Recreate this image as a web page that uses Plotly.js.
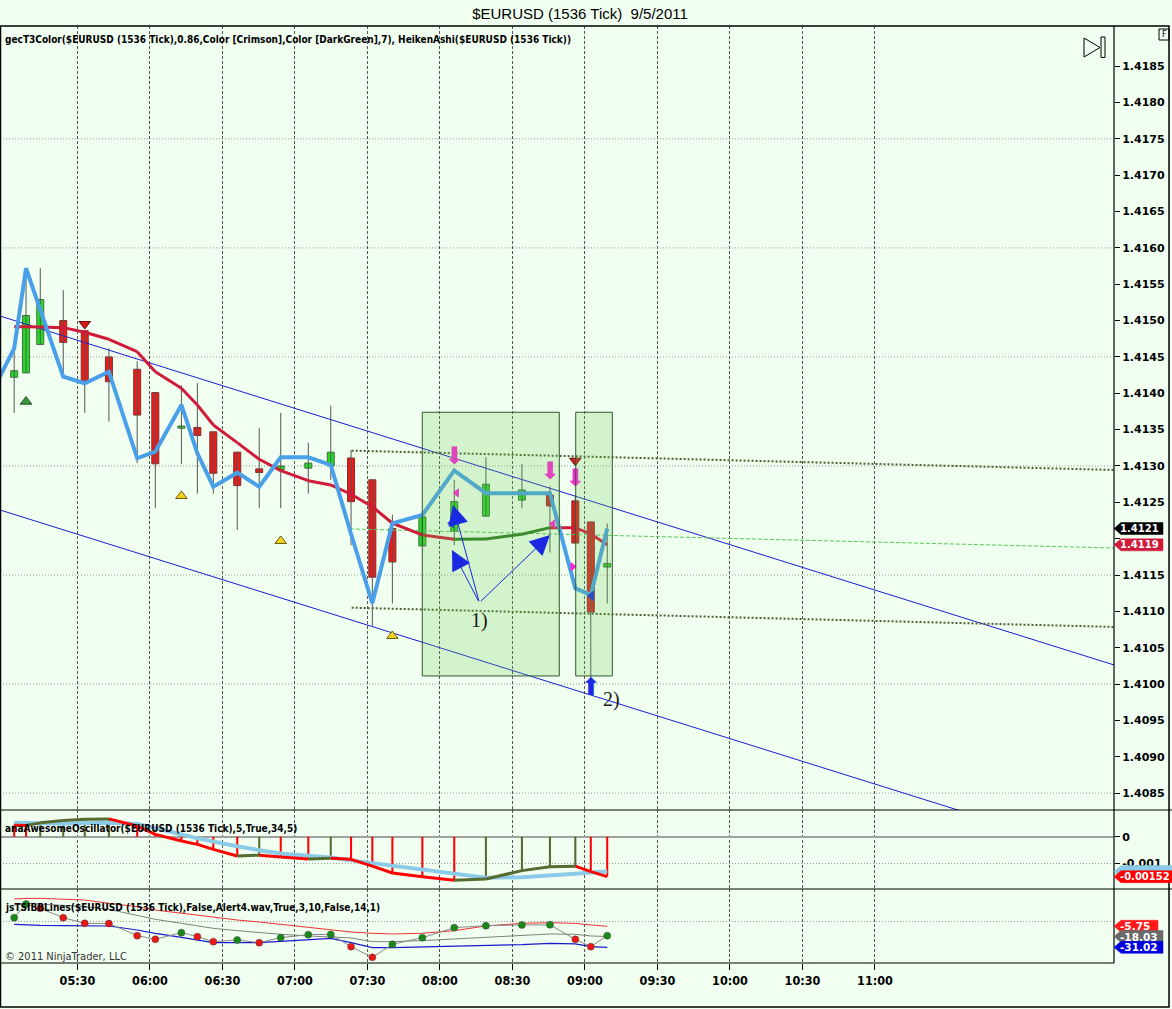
<!DOCTYPE html>
<html><head><meta charset="utf-8">
<script src="https://cdn.plot.ly/plotly-3.0.1.min.js"></script>
<style>body{margin:0;background:#f0fff0}</style>
</head><body><div id="chart" style="width:1172px;height:1009px"></div>
<script>
const DAY = '2011-09-05 ';
// ---------- data ----------
const candleTimes = ['05:03:48','05:08:42','05:14:36','05:24:06','05:33:00','05:43:00','05:54:42','06:02:12','06:13:00','06:19:36','06:26:12','06:36:06','06:45:12','06:54:06','07:05:30','07:14:48','07:23:12','07:32:00','07:40:18','07:52:42','08:05:54','08:19:00','08:33:54','08:45:30','08:56:00','09:02:24','09:09:12'];
const haOpen  = [1.41422,1.41428,1.41467,1.41500,1.41486,1.41450,1.41433,1.41401,1.41352,1.41353,1.41347,1.41319,1.41296,1.41295,1.41297,1.41300,1.41311,1.41281,1.41214,1.41190,1.41210,1.41231,1.41253,1.41260,1.41252,1.41223,1.41161];
const haHigh  = [1.41467,1.41570,1.41572,1.41542,1.41486,1.41462,1.41444,1.41401,1.41411,1.41414,1.41347,1.41319,1.41352,1.41373,1.41332,1.41383,1.41322,1.41281,1.41233,1.41230,1.41281,1.41312,1.41303,1.41272,1.41260,1.41223,1.41221];
const haLow   = [1.41373,1.41428,1.41467,1.41423,1.41373,1.41361,1.41304,1.41242,1.41303,1.41262,1.41262,1.41212,1.41242,1.41242,1.41262,1.41281,1.41191,1.41080,1.41111,1.41190,1.41191,1.41231,1.41242,1.41181,1.41194,1.40996,1.41111];
const haClose = [1.41431,1.41507,1.41529,1.41470,1.41415,1.41416,1.41370,1.41303,1.41355,1.41342,1.41290,1.41273,1.41291,1.41300,1.41304,1.41319,1.41251,1.41147,1.41168,1.41230,1.41251,1.41275,1.41267,1.41245,1.41194,1.41099,1.41166];
const t3Values = [1.414916,1.414914,1.414912,1.414903,1.414839,1.414743,1.414572,1.414297,1.414069,1.413839,1.413564,1.413321,1.413092,1.412936,1.412798,1.412739,1.412611,1.412440,1.412212,1.412051,1.411992,1.411996,1.412061,1.412152,1.412150,1.412065,1.411915];
const blueLeadTime = '04:55:54';
const blueLeadValue = 1.41410;
const blueValues = [1.414619,1.415720,1.415146,1.414229,1.414138,1.414297,1.413106,1.413197,1.413839,1.413175,1.412715,1.412908,1.412715,1.413120,1.413120,1.413014,1.412065,1.411112,1.412212,1.412326,1.412936,1.412625,1.412625,1.412625,1.411318,1.411226,1.412140];

const aoPrev = 0.00046;
const aoValues = [0.00044,0.00043,0.00053,0.00062,0.00067,0.00068,0.00041,0.00009,-0.00016,-0.00029,-0.00048,-0.00073,-0.00070,-0.00077,-0.00085,-0.00082,-0.00086,-0.00112,-0.00138,-0.00152,-0.00166,-0.00161,-0.00129,-0.00114,-0.00112,-0.00133,-0.00152];
const aoSignal = [0.00053,0.00052,0.00050,0.00050,0.00052,0.00053,0.00049,0.00034,0.00009,-0.00006,-0.00019,-0.00036,-0.00051,-0.00064,-0.00072,-0.00079,-0.00090,-0.00100,-0.00109,-0.00126,-0.00141,-0.00156,-0.00154,-0.00149,-0.00141,-0.00136,-0.00132];

const tsiPrev = 0;
const tsiValues = [4.6,21.0,15.8,4.6,-2.2,-2.4,-17.0,-21.4,-13.4,-18.2,-24.2,-22.2,-25.4,-19.4,-15.8,-15.5,-30.2,-43.1,-27.4,-19.4,-7.4,-5.0,-4.2,-4.0,-21.4,-30.2,-17.0];
const bbUpper = [27.0,27.8,27.8,27.0,25.8,21.8,17.8,13.8,9.8,7.8,5.0,1.8,-0.6,-3.4,-7.0,-9.4,-12.6,-14.2,-15.0,-14.2,-11.0,-5.4,-2.2,-1.4,-2.2,-4.2,-5.75];
const bbMid   = [19.8,21.8,21.0,19.8,17.8,14.6,7.8,2.6,-2.2,-5.4,-8.2,-11.0,-13.4,-15.4,-17.4,-18.2,-19.8,-24.2,-24.2,-23.0,-21.0,-19.0,-16.2,-15.0,-15.4,-17.4,-18.03];
const bbLower = [-3.4,-4.2,-4.6,-5.0,-5.4,-5.4,-10.2,-14.2,-19.0,-22.2,-25.4,-25.4,-25.4,-23.8,-22.2,-20.2,-25.4,-31.4,-31.4,-30.6,-30.2,-29.0,-27.8,-26.2,-27.0,-30.2,-31.02];

const upperChannelTimes = ['04:57:56','12:38:54'];
const upperChannelPrices = [1.415063,1.410263];
const lowerChannelTimes = ['04:57:56','12:38:54'];
const lowerChannelPrices = [1.412395,1.407595];
const upperDottedTimes = ['07:23:28','12:38:54'];
const upperDottedPrices = [1.413211,1.412945];
const lowerDottedTimes = ['07:23:28','12:38:54'];
const lowerDottedPrices = [1.411051,1.410786];
const greenLineTimes = ['07:22:46','12:38:54'];
const greenLinePrices = [1.412134,1.411872];

const boxStartTimes = ['07:52:40','08:56:10'];
const boxEndTimes = ['08:49:22','09:11:18'];
const boxTopPrices = [1.413739,1.413739];
const boxBottomPrices = [1.410112,1.410112];

const greenUpTimes = ['05:08:42'];       const greenUpPrices = [1.413885];
const redDownTimes = ['05:33:00','08:56:00']; const redDownPrices = [1.414953,1.413073];
const yellowUpTimes = ['06:13:00','06:54:06','07:40:18']; const yellowUpPrices = [1.412588,1.411969,1.410662];
const magentaDownTimes = ['08:05:54','08:45:30','08:56:00']; const magentaDownPrices = [1.413110,1.412904,1.412808];
const magentaLeftTimes = ['08:06:54','08:46:46']; const magentaLeftPrices = [1.412629,1.412203];
const magentaRightTimes = ['08:54:55']; const magentaRightPrices = [1.411615];
const blueLeftTimes = ['08:04:50','09:02:40']; const blueLeftPrices = [1.412212,1.411212];
const blueUpTimes = ['09:02:24']; const blueUpPrices = [1.409933];
const arrowTailTime = '08:16:16'; const arrowTailPrice = 1.411120;
const arrowTipTimes = ['08:05:22','08:04:58','08:45:31'];
const arrowTipPrices = [1.412464,1.411845,1.412051];
const noteTexts = ['1)','2)'];
const noteTimes = ['08:16:32','09:11:10'];
const notePrices = [1.410868,1.409782];

const priceTicks = [1.4085,1.4090,1.4095,1.4100,1.4105,1.4110,1.4115,1.4120,1.4125,1.4130,1.4135,1.4140,1.4145,1.4150,1.4155,1.4160,1.4165,1.4170,1.4175,1.4180,1.4185];
const hiddenPriceTick = 1.4120; // covered by the last-value markers in the picture
const priceGrid = [1.4085,1.4100,1.4115,1.4130,1.4145,1.4160,1.4175];
const timeTickLabels = ['05:30','06:00','06:30','07:00','07:30','08:00','08:30','09:00','09:30','10:00','10:30','11:00'];

// ---------- helpers ----------
const T = s => DAY + s;
const ct = candleTimes.map(T);
const MIN = 60000;
const NARROW = 'Liberation Sans Narrow, Arial Narrow, DejaVu Sans Condensed, sans-serif';
const LABELF = 'DejaVu Sans, Verdana, sans-serif';
const W = 1114, TOP = 26, BOT = 963, H = BOT - TOP;
const px = x => x / W;
const py = y => (BOT - y) / H;

const traces = [];
traces.push({x:upperChannelTimes.map(T), y:upperChannelPrices, mode:'lines', line:{color:'#1c1cd8', width:1}, hoverinfo:'skip'});
traces.push({x:lowerChannelTimes.map(T), y:lowerChannelPrices, mode:'lines', line:{color:'#1c1cd8', width:1}, hoverinfo:'skip'});
traces.push({x:upperDottedTimes.map(T), y:upperDottedPrices, mode:'lines', line:{color:'#4f5f2f', width:2, dash:'2px,2px'}, hoverinfo:'skip'});
traces.push({x:lowerDottedTimes.map(T), y:lowerDottedPrices, mode:'lines', line:{color:'#4f5f2f', width:2, dash:'2px,2px'}, hoverinfo:'skip'});
traces.push({x:greenLineTimes.map(T), y:greenLinePrices, mode:'lines', line:{color:'#55cc55', width:1, dash:'4px,2px'}, hoverinfo:'skip'});

// candle wicks
const wx = [], wy = [];
ct.forEach((t,i) => { wx.push(t,t,null); wy.push(haLow[i], haHigh[i], null); });
traces.push({x:wx, y:wy, mode:'lines', line:{color:'#555', width:1}, hoverinfo:'skip'});
// candle bodies
const up = [], dn = [];
ct.forEach((t,i) => (haClose[i] >= haOpen[i] ? up : dn).push(i));
traces.push({type:'bar', x:up.map(i=>ct[i]), base:up.map(i=>haOpen[i]), y:up.map(i=>haClose[i]-haOpen[i]),
  width:2.9*MIN, marker:{color:'#22dd22', line:{color:'#4a6a4a', width:1}}, hoverinfo:'skip'});
traces.push({type:'bar', x:dn.map(i=>ct[i]), base:dn.map(i=>haClose[i]), y:dn.map(i=>haOpen[i]-haClose[i]),
  width:2.9*MIN, marker:{color:'#ee1a1a', line:{color:'#7a3030', width:1}}, hoverinfo:'skip'});

function segTraces(times, vals, upColor, dnColor, width, yaxis) {
  const g = {x:[], y:[]}, r = {x:[], y:[]};
  for (let i = 1; i < vals.length; i++) {
    const s = vals[i] > vals[i-1] ? g : r;
    s.x.push(times[i-1], times[i], null); s.y.push(vals[i-1], vals[i], null);
  }
  return [
    {x:r.x, y:r.y, mode:'lines', line:{color:dnColor, width:width}, yaxis:yaxis, hoverinfo:'skip'},
    {x:g.x, y:g.y, mode:'lines', line:{color:upColor, width:width}, yaxis:yaxis, hoverinfo:'skip'}
  ];
}
traces.push(...segTraces(ct, t3Values, '#2f7a22', '#d01a3a', 3, 'y'));
traces.push({x:[T(blueLeadTime)].concat(ct), y:[blueLeadValue].concat(blueValues), mode:'lines', line:{color:'#4aa0e8', width:4}, hoverinfo:'skip'});

function mk(times, prices, symbol, color, size, lineColor) {
  return {x:times.map(T), y:prices, mode:'markers', hoverinfo:'skip',
    marker:{symbol:symbol, color:color, size:size, line:{color:lineColor||color, width:1}}};
}
function glyph(times, prices, ch, color, size) {
  return {x:times.map(T), y:prices, mode:'text', text:times.map(()=>ch), textposition:'middle center', hoverinfo:'skip',
    textfont:{family:'DejaVu Sans, sans-serif', size:size, color:color}};
}
traces.push(mk(greenUpTimes, greenUpPrices, 'triangle-up', '#3a9a3a', 10, '#1c4c1c'));
traces.push(mk(redDownTimes, redDownPrices, 'triangle-down', '#e01818', 10, '#601010'));
traces.push(mk(yellowUpTimes, yellowUpPrices, 'triangle-up', '#f2d21a', 10, '#6a5a10'));
traces.push(glyph(magentaDownTimes, magentaDownPrices, '⬇', '#ff22dd', 24));
traces.push(mk(magentaLeftTimes, magentaLeftPrices, 'triangle-left', '#ff22dd', 7));
traces.push(mk(magentaRightTimes, magentaRightPrices, 'triangle-right', '#ff22dd', 7));
traces.push(mk(blueLeftTimes, blueLeftPrices, 'triangle-left', '#1a2ae0', 8));
traces.push(glyph(blueUpTimes, blueUpPrices, '⬆', '#1a2ae0', 24));

// ---------- AO panel ----------
const aoUp = [], aoDn = [];
aoValues.forEach((v,i) => (v > (i ? aoValues[i-1] : aoPrev) ? aoUp : aoDn).push(i));
traces.push({type:'bar', x:aoDn.map(i=>ct[i]), y:aoDn.map(i=>aoValues[i]), width:0.85*MIN, yaxis:'y2', marker:{color:'#ff0000', line:{width:0}}, hoverinfo:'skip'});
traces.push({type:'bar', x:aoUp.map(i=>ct[i]), y:aoUp.map(i=>aoValues[i]), width:0.85*MIN, yaxis:'y2', marker:{color:'#556b2f', line:{width:0}}, hoverinfo:'skip'});
traces.push({x:ct, y:aoSignal, mode:'lines', line:{color:'#8ccbe8', width:4}, yaxis:'y2', hoverinfo:'skip'});
traces.push(...segTraces(ct, aoValues, '#556b2f', '#ff0000', 3, 'y2'));

// ---------- TSI panel ----------
traces.push({x:ct, y:bbUpper, mode:'lines', line:{color:'#ee3030', width:1}, yaxis:'y3', hoverinfo:'skip'});
traces.push({x:ct, y:bbMid, mode:'lines', line:{color:'#808080', width:1}, yaxis:'y3', hoverinfo:'skip'});
traces.push({x:ct, y:bbLower, mode:'lines', line:{color:'#1a1acc', width:1.2}, yaxis:'y3', hoverinfo:'skip'});
traces.push({x:ct, y:tsiValues, mode:'lines+markers', line:{color:'#888', width:1}, yaxis:'y3', hoverinfo:'skip',
  marker:{size:7, color:tsiValues.map((v,i)=> v > (i ? tsiValues[i-1] : tsiPrev) ? '#178a17' : '#ee1515'),
          line:{width:0.5, color:'#444'}}});

// ---------- layout ----------
const mainRange = [1.408268, 1.419052];
const aoRange = [-0.00199, 0.00102];
const tsiRange = [-49.88, 39.06];
const mainDom = [py(810), 1], aoDom = [py(889), py(810)], tsiDom = [0, py(889)];
const ppuMain = (810 - TOP) / (mainRange[1] - mainRange[0]);
const ppuAo = (889 - 810) / (aoRange[1] - aoRange[0]);
const ppuTsi = (BOT - 889) / (tsiRange[1] - tsiRange[0]);

const shapes = [];
priceGrid.forEach(p => shapes.push({type:'line', xref:'paper', yref:'y', x0:0, x1:1, y0:p, y1:p, layer:'below', line:{color:'#9a9a9a', width:1, dash:'1px,2px'}}));
boxStartTimes.forEach((t,i) => shapes.push({type:'rect', xref:'x', yref:'y', x0:T(t), x1:T(boxEndTimes[i]), y0:boxBottomPrices[i], y1:boxTopPrices[i],
  fillcolor:'rgba(110,200,80,0.22)', line:{color:'#2d5a2d', width:1}}));
shapes.push({type:'rect', xref:'paper', yref:'paper', x0:px(0.5), x1:px(1169), y0:py(1007), y1:py(26), line:{color:'#000', width:1.5}});
shapes.push({type:'line', xref:'paper', yref:'paper', x0:0, x1:px(1172), y0:py(810), y1:py(810), line:{color:'#000', width:1.2}});
shapes.push({type:'line', xref:'paper', yref:'paper', x0:0, x1:px(1172), y0:py(889), y1:py(889), line:{color:'#000', width:1.2}});
shapes.push({type:'line', xref:'paper', yref:'paper', x0:0, x1:1, y0:0, y1:0, line:{color:'#000', width:1.2}});
shapes.push({type:'line', xref:'paper', yref:'paper', x0:1, x1:1, y0:0, y1:1, line:{color:'#000', width:1.2}});
shapes.push({type:'path', xref:'paper', yref:'paper', path:`M ${px(1084)},${py(38)} L ${px(1084)},${py(57)} L ${px(1100)},${py(47.5)} Z`, line:{color:'#000', width:1}});
shapes.push({type:'rect', xref:'paper', yref:'paper', x0:px(1101), x1:px(1105), y0:py(57.5), y1:py(37), line:{color:'#000', width:1}});
shapes.push({type:'rect', xref:'paper', yref:'paper', x0:px(1159), x1:px(1169), y0:py(40), y1:py(29), line:{color:'#000', width:1}});

const annotations = [];
function valueBox(yref, v, ppu, color, textColor, x1px, text, fs) {
  const h = 6 / ppu;
  shapes.push({type:'path', xref:'paper', yref:yref, layer:'above',
    path:`M ${px(1114)},${v} L ${px(1121)},${v+h} L ${px(x1px)},${v+h} L ${px(x1px)},${v-h} L ${px(1121)},${v-h} Z`,
    fillcolor:color, line:{color:color, width:0.5}});
  if (text) annotations.push({xref:'paper', yref:yref, x:px(1119), y:v, xanchor:'left', yanchor:'middle', text:text, showarrow:false,
    borderpad:0, font:{family:LABELF, size:fs || 10.5, color:textColor, weight:'bold'}});
}
const lastI = candleTimes.length - 1;
valueBox('y', blueValues[lastI], ppuMain, '#000000', '#ffffff', 1163, blueValues[lastI].toFixed(4), 10);
valueBox('y', t3Values[lastI], ppuMain, '#d01a3a', '#ffffff', 1163, t3Values[lastI].toFixed(4), 10);
valueBox('y2', aoSignal[lastI], ppuAo, '#8ccbe8', '#ffffff', 1175, '');
valueBox('y2', aoValues[lastI], ppuAo, '#ff0000', '#ffffff', 1175, aoValues[lastI].toFixed(5), 10);
valueBox('y3', bbUpper[lastI], ppuTsi, '#ff1a1a', '#ffffff', 1158, bbUpper[lastI].toFixed(2));
valueBox('y3', bbMid[lastI], ppuTsi, '#6a6a6a', '#ffffff', 1163, bbMid[lastI].toFixed(2));
valueBox('y3', bbLower[lastI], ppuTsi, '#0000e0', '#ffffff', 1163, bbLower[lastI].toFixed(2));

const panelFont = {family:NARROW, size:10, color:'#000', weight:'bold'};
annotations.push({xref:'paper', yref:'paper', x:px(3), y:py(40), xanchor:'left', yanchor:'middle', showarrow:false, font:panelFont,
  text:'gecT3Color($EURUSD (1536 Tick),0.86,Color [Crimson],Color [DarkGreen],7), HeikenAshi($EURUSD (1536 Tick))'});
annotations.push({xref:'paper', yref:'paper', x:px(3), y:py(828), xanchor:'left', yanchor:'middle', showarrow:false, font:panelFont,
  text:'anaAwesomeOscillator($EURUSD (1536 Tick),5,True,34,5)'});
annotations.push({xref:'paper', yref:'paper', x:px(3), y:py(907), xanchor:'left', yanchor:'middle', showarrow:false, font:panelFont,
  text:'jsTSIBBLines($EURUSD (1536 Tick),False,Alert4.wav,True,3,10,False,14,1)'});
annotations.push({xref:'paper', yref:'paper', x:px(3), y:py(956), xanchor:'left', yanchor:'middle', showarrow:false,
  font:{family:NARROW, size:11, color:'#333'}, text:'© 2011 NinjaTrader, LLC'});
annotations.push({xref:'paper', yref:'paper', x:px(1164), y:py(35), xanchor:'center', yanchor:'middle', showarrow:false,
  font:{family:LABELF, size:8, color:'#000'}, text:'F'});
arrowTipTimes.forEach((t,i) => annotations.push({xref:'x', yref:'y', axref:'x', ayref:'y', x:T(t), y:arrowTipPrices[i],
  ax:T(arrowTailTime), ay:arrowTailPrice, text:'', showarrow:true, arrowhead:2, arrowsize:4, arrowwidth:1, arrowcolor:'#1a2ae0'}));
noteTexts.forEach((s,i) => annotations.push({xref:'x', yref:'y', x:T(noteTimes[i]), y:notePrices[i], text:s, showarrow:false,
  font:{family:'Liberation Serif, DejaVu Serif, serif', size:20, color:'#1a1a1a'}}));

const tickFont = {family:LABELF, size:11, color:'#000', weight:'bold'};
const layout = {
  width:1172, height:1009,
  paper_bgcolor:'#f0fff0', plot_bgcolor:'#f0fff0',
  margin:{l:0, r:58, t:TOP, b:1009-BOT},
  showlegend:false, barmode:'overlay', hovermode:false,
  title:{text:'$EURUSD (1536 Tick)  9/5/2011', x:580/1172, xref:'container', xanchor:'center', y:1-14/1009, yref:'container', yanchor:'middle',
    font:{family:'Liberation Sans, Arial, sans-serif', size:15, color:'#000'}},
  xaxis:{type:'date', range:[T('04:57:56'), T('12:38:54')], domain:[0,1], anchor:'y3',
    tickvals:timeTickLabels.map(T), ticktext:timeTickLabels, ticks:'outside', ticklen:6, tickcolor:'#000',
    showgrid:true, gridcolor:'#555', griddash:'3px,2px', gridwidth:1, showline:false, zeroline:false,
    tickfont:{family:NARROW, size:12.5, color:'#000', weight:'bold'}, fixedrange:true},
  yaxis:{domain:mainDom, range:mainRange, side:'right', anchor:'x', tickvals:priceTicks,
    ticktext:priceTicks.map(p => p === hiddenPriceTick ? '' : p.toFixed(4)),
    ticks:'outside', ticklen:5, tickcolor:'#000', showgrid:false, zeroline:false, showline:false, tickfont:tickFont, fixedrange:true},
  yaxis2:{domain:aoDom, range:aoRange, side:'right', anchor:'x', tickvals:[0,-0.001], ticktext:['0','-0.001'],
    ticks:'outside', ticklen:5, tickcolor:'#000', showgrid:true, gridcolor:'#9a9a9a', griddash:'1px,2px',
    zeroline:true, zerolinecolor:'#a0a0a0', zerolinewidth:2.5, tickfont:tickFont, fixedrange:true},
  yaxis3:{domain:tsiDom, range:tsiRange, side:'right', anchor:'x', tickvals:[0], showticklabels:false, ticks:'',
    showgrid:true, gridcolor:'#9a9a9a', griddash:'1px,2px', zeroline:false, fixedrange:true},
  shapes:shapes, annotations:annotations
};
Plotly.newPlot('chart', traces, layout, {displayModeBar:false, staticPlot:true});
</script></body></html>
